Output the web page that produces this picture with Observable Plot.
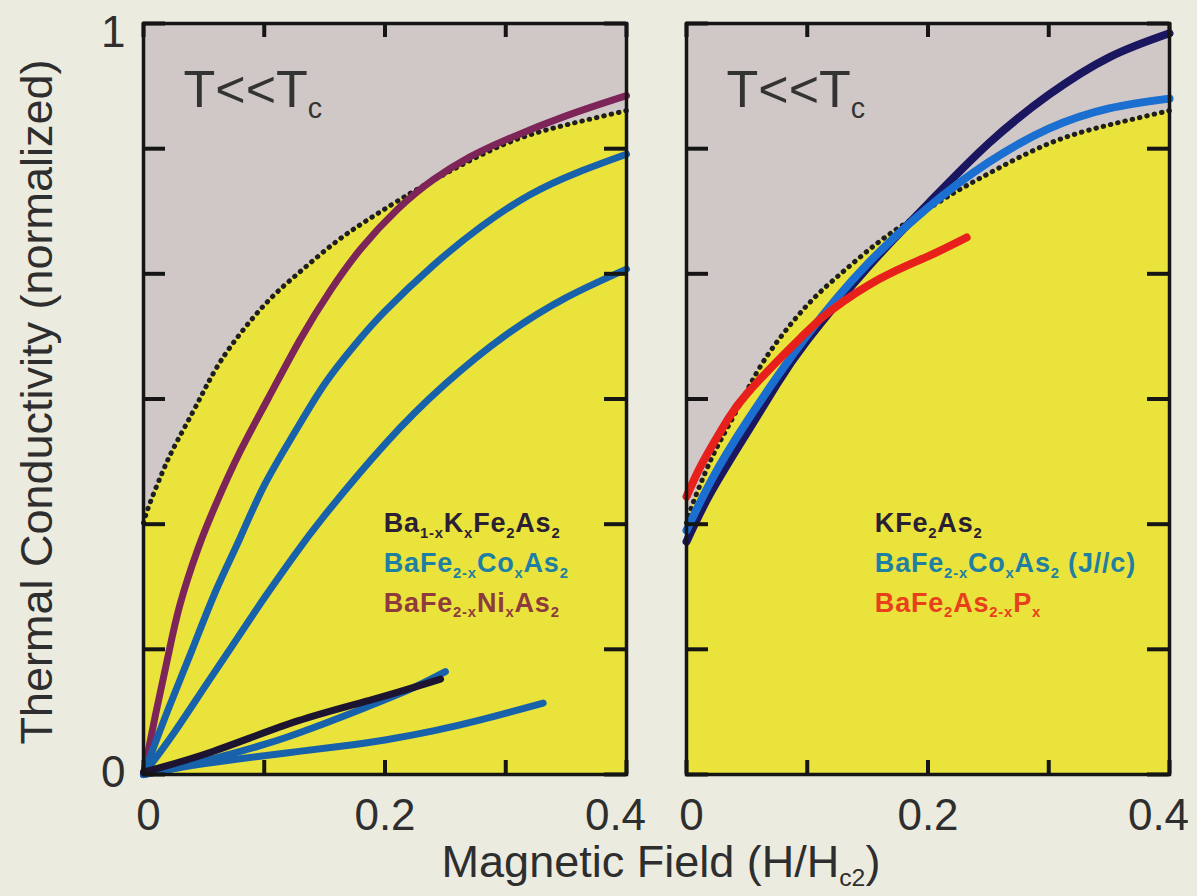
<!DOCTYPE html>
<html><head><meta charset="utf-8">
<script src="https://cdn.jsdelivr.net/npm/d3@7"></script>
<script src="https://cdn.jsdelivr.net/npm/@observablehq/plot@0.6"></script>
<style>
html,body{margin:0;padding:0;background:#ecebe0;}
#chart{width:1197px;height:896px;}
</style></head><body><div id="chart"></div>
<script>
// ---------------- data ----------------
const panels = ["left", "right"];
const xTicks = [0, 0.1, 0.2, 0.3, 0.4];
const xTickLabels = [0, 0.2, 0.4];
const yTicks = [0, 0.1667, 0.3333, 0.5, 0.6667, 0.8333, 1];
const yTickLabels = [0, 1];
const xTitle = "Magnetic Field (H/H_{c2})";
const yTitle = "Thermal Conductivity (normalized)";
const panelNote = "T<<T_{c}";

// dotted boundary (same in both panels)
const boundaryH = [0, 0.005, 0.015, 0.025, 0.04, 0.053, 0.07, 0.1, 0.13, 0.16, 0.19, 0.22, 0.25, 0.3, 0.35, 0.4];
const boundaryK = [0.335, 0.36, 0.40, 0.435, 0.48, 0.52, 0.565, 0.625, 0.67, 0.71, 0.743, 0.773, 0.80, 0.84, 0.865, 0.884];

// left panel
const niH = [0, 0.01, 0.02, 0.03, 0.045, 0.06, 0.08, 0.103, 0.13, 0.155, 0.18, 0.21, 0.24, 0.27, 0.3, 0.35, 0.4];
const niK = [0, 0.08, 0.155, 0.225, 0.3, 0.36, 0.43, 0.5, 0.58, 0.645, 0.70, 0.752, 0.792, 0.822, 0.845, 0.877, 0.904];
const coAH = [0, 0.02, 0.04, 0.06, 0.08, 0.1, 0.125, 0.15, 0.175, 0.2, 0.24, 0.28, 0.32, 0.36, 0.4];
const coAK = [0, 0.085, 0.165, 0.245, 0.315, 0.385, 0.455, 0.52, 0.572, 0.617, 0.678, 0.73, 0.772, 0.802, 0.826];
const coBH = [0, 0.025, 0.05, 0.075, 0.1, 0.125, 0.15, 0.2, 0.25, 0.3, 0.35, 0.4];
const coBK = [0, 0.055, 0.115, 0.175, 0.235, 0.292, 0.345, 0.44, 0.52, 0.585, 0.635, 0.673];
const coCH = [0, 0.03, 0.06, 0.1, 0.14, 0.182, 0.22, 0.25];
const coCK = [0, 0.01, 0.022, 0.04, 0.062, 0.088, 0.113, 0.137];
const coDH = [0, 0.04, 0.08, 0.12, 0.16, 0.2, 0.24, 0.28, 0.331];
const coDK = [0, 0.012, 0.021, 0.029, 0.037, 0.046, 0.058, 0.073, 0.095];
const kH = [0, 0.058, 0.127, 0.19, 0.246];
const kK = [0.003, 0.031, 0.071, 0.1, 0.127];

// right panel
const kfeH = [0, 0.02, 0.05, 0.075, 0.1, 0.15, 0.2, 0.25, 0.3, 0.35, 0.4];
const kfeK = [0.31, 0.375, 0.455, 0.52, 0.578, 0.675, 0.76, 0.84, 0.905, 0.955, 0.987];
const coJH = [0, 0.02, 0.05, 0.1, 0.15, 0.2, 0.25, 0.3, 0.35, 0.4];
const coJK = [0.325, 0.39, 0.47, 0.585, 0.68, 0.755, 0.815, 0.86, 0.887, 0.9];
const pH = [0, 0.01, 0.022, 0.035, 0.05, 0.078, 0.1, 0.119, 0.16, 0.2, 0.232];
const pK = [0.37, 0.405, 0.44, 0.475, 0.507, 0.555, 0.59, 0.617, 0.66, 0.69, 0.715];

const legendLeft = ["Ba_{1-x}K_{x}Fe_{2}As_{2}", "BaFe_{2-x}Co_{x}As_{2}", "BaFe_{2-x}Ni_{x}As_{2}"];
const legendRight = ["KFe_{2}As_{2}", "BaFe_{2-x}Co_{x}As_{2} (J//c)", "BaFe_{2}As_{2-x}P_{x}"];

// ---------------- styles ----------------
const GRAY = "#cfc8c6", YELLOW = "#e9e33b", PAGE = "#ecebe0", INK = "#2e2e2e";
const legendLeftColors = ["#2b2033", "#1e7fa3", "#8e3b3e"];
const legendRightColors = ["#2b2033", "#1e7fa3", "#e8401c"];

const rows = (H, K, panel, id) => H.map((h, i) => ({H: h, K: K[i], panel, id}));
const boundary = panels.flatMap(p => rows(boundaryH, boundaryK, p, "b"));
const series = [
  {d: rows(niH, niK, "left", "ni"), color: "#7d2459", w: 7},
  {d: rows(coAH, coAK, "left", "coA"), color: "#1862ab", w: 7},
  {d: rows(coBH, coBK, "left", "coB"), color: "#1862ab", w: 7},
  {d: rows(coDH, coDK, "left", "coD"), color: "#1862ab", w: 7},
  {d: rows(coCH, coCK, "left", "coC"), color: "#1862ab", w: 7},
  {d: rows(kH, kK, "left", "k"), color: "#1c1430", w: 7},
  {d: rows(kfeH, kfeK, "right", "kfe"), color: "#1b1660", w: 8},
  {d: rows(coJH, coJK, "right", "coJ"), color: "#1a6fd0", w: 8},
  {d: rows(pH, pK, "right", "p"), color: "#e8201c", w: 8}
];

const PW = 483, PH = 751;
const tickFont = {tickSize: 0, fontSize: 44, tickFormat: d => String(d), fill: INK};

const chart = Plot.plot({
  width: 1197, height: 896,
  marginLeft: 143, marginRight: 28, marginTop: 23, marginBottom: 122,
  style: {fontFamily: "'Liberation Sans', Arial, sans-serif", background: PAGE, color: INK},
  fx: {domain: panels, axis: null, paddingInner: 0.1105, paddingOuter: 0, label: null},
  x: {domain: [0, 0.4], label: null},
  y: {domain: [0, 1], label: null},
  color: {type: "identity"},
  marks: [
    Plot.frame({fill: GRAY}),
    Plot.areaY(boundary, {x: "H", y: "K", fx: "panel", fill: YELLOW, curve: "natural"}),
    Plot.line(boundary, {x: "H", y: "K", fx: "panel", z: "panel", stroke: "#1e1e1e", strokeWidth: 5, strokeDasharray: "0.5,7", strokeLinecap: "round", curve: "natural"}),
    ...series.map(s => Plot.line(s.d, {x: "H", y: "K", fx: "panel", stroke: s.color, strokeWidth: s.w, strokeLinecap: "round", curve: "natural"})),
    // inward ticks on all four sides
    Plot.tickX(xTicks, {x: d => d, insetTop: PH - 14, stroke: "#151515", strokeWidth: 4}),
    Plot.tickX(xTicks, {x: d => d, insetBottom: PH - 14, stroke: "#151515", strokeWidth: 4}),
    Plot.tickY(yTicks, {y: d => d, insetRight: PW - 22, stroke: "#151515", strokeWidth: 4}),
    Plot.tickY(yTicks, {y: d => d, insetLeft: PW - 22, stroke: "#151515", strokeWidth: 4}),
    Plot.frame({stroke: "#151515", strokeWidth: 3.5}),
    Plot.axisX([xTickLabels[0]], {...tickFont, tickPadding: 24, dx: 5}),
    Plot.axisX([xTickLabels[1]], {...tickFont, tickPadding: 24}),
    Plot.axisX([xTickLabels[2]], {...tickFont, tickPadding: 24, dx: -11}),
    Plot.axisY([yTickLabels[0]], {...tickFont, tickPadding: 18, dy: -2}),
    Plot.axisY([yTickLabels[1]], {...tickFont, tickPadding: 18, dy: 9}),
    Plot.text([panelNote], {frameAnchor: "top-left", dx: 40, dy: 47, lineAnchor: "top", textAnchor: "start", fontSize: 52, fill: "#333"}),
    Plot.text(legendLeft, {fx: () => "left", x: () => 0.199, y: (d, i) => 0.334 - i * 0.053, text: d => d, textAnchor: "start", lineAnchor: "middle", fontSize: 27, fontWeight: "bold", fill: (d, i) => legendLeftColors[i]}),
    Plot.text(legendRight, {fx: () => "right", x: () => 0.156, y: (d, i) => 0.334 - i * 0.053, text: d => d, textAnchor: "start", lineAnchor: "middle", fontSize: 27, fontWeight: "bold", fill: (d, i) => legendRightColors[i]})
  ]
});

document.getElementById("chart").appendChild(chart);

const svg = d3.select(chart);
svg.append("text").attr("x", 661).attr("y", 877).attr("text-anchor", "middle")
  .attr("font-size", 45).attr("fill", INK).text(xTitle);
svg.append("text").attr("transform", "translate(52,402) rotate(-90)").attr("text-anchor", "middle")
  .attr("font-size", 45).attr("fill", INK).text(yTitle);

// subscripts: "_{...}" → shifted smaller tspans
svg.selectAll("text").each(function() {
  const t = this.textContent;
  const cs = getComputedStyle(this);
  if (cs.fontWeight === "700" || cs.fontWeight === "bold") this.setAttribute("letter-spacing", "0.8");
  if (!t.includes("_{")) return;
  const fs = parseFloat(cs.fontSize);
  const shift = fs * 0.2;
  const parts = t.split(/(_\{[^}]*\})/).filter(p => p);
  this.textContent = "";
  let down = false;
  for (const p of parts) {
    const ts = document.createElementNS("http://www.w3.org/2000/svg", "tspan");
    if (p.startsWith("_{")) {
      ts.textContent = p.slice(2, -1);
      ts.setAttribute("font-size", fs * 0.55);
      if (!down) { ts.setAttribute("dy", shift); down = true; }
    } else {
      ts.textContent = p;
      if (down) { ts.setAttribute("dy", -shift); down = false; }
    }
    this.appendChild(ts);
  }
});
</script></body></html>
